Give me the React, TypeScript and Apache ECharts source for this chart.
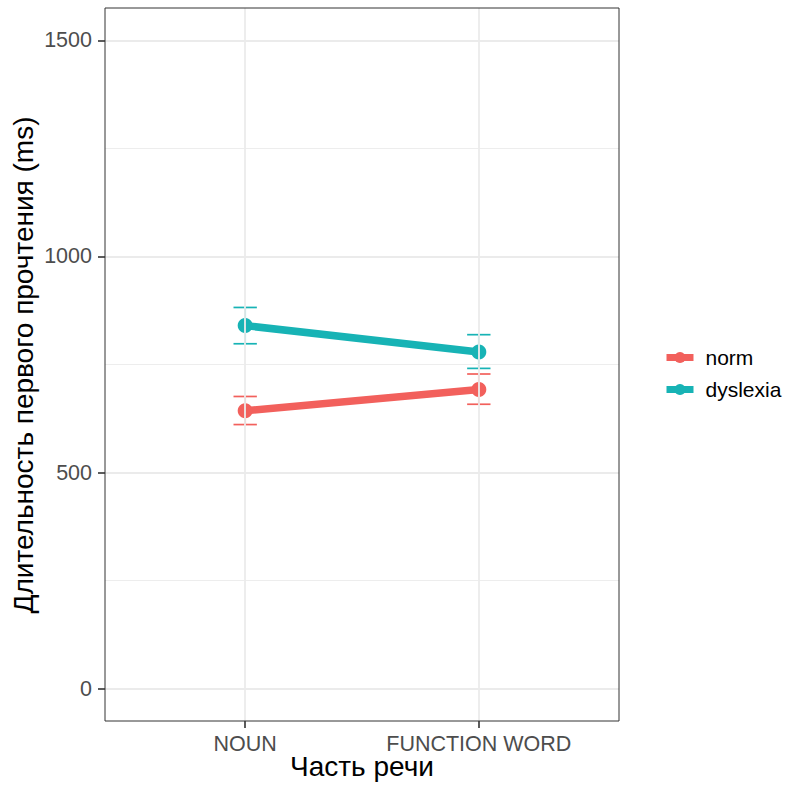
import React, { useEffect, useRef } from "react";
import * as echarts from "echarts";

const categories = ["NOUN", "FUNCTION WORD"];
const seriesNames = ["norm", "dyslexia"];
const normMean = [643, 692];
const normLow = [611, 658];
const normHigh = [676, 728];
const dysMean = [840, 779];
const dysLow = [798, 741];
const dysHigh = [882, 819];
const yTicks = [0, 500, 1000, 1500];
const yMinor = [250, 750, 1250];
const colors = ["#F2605C", "#17B3B5"];
const xTitle = "Часть речи";
const yTitle = "Длительность первого прочтения (ms)";

const FONT = "'Liberation Sans', Arial, Helvetica, sans-serif";

function errSeries(name: string, low: number[], high: number[], color: string) {
  return {
    type: "custom",
    name,
    z: 2,
    silent: true,
    data: categories.map((_, i) => [i + 1, low[i], high[i]]),
    renderItem: (params: any, api: any) => {
      const x = api.value(0);
      const lo = api.value(1);
      const hi = api.value(2);
      const pLo = api.coord([x, lo]);
      const pHi = api.coord([x, hi]);
      const l = api.coord([x - 0.05, lo])[0];
      const r = api.coord([x + 0.05, lo])[0];
      const style = { stroke: color, lineWidth: 1.7 };
      return {
        type: "group",
        children: [
          { type: "line", shape: { x1: pLo[0], y1: pLo[1], x2: pHi[0], y2: pHi[1] }, style },
          { type: "line", shape: { x1: l, y1: pLo[1], x2: r, y2: pLo[1] }, style },
          { type: "line", shape: { x1: l, y1: pHi[1], x2: r, y2: pHi[1] }, style },
        ],
      };
    },
  };
}

function lineSeries(name: string, mean: number[], color: string) {
  return {
    type: "line",
    name,
    z: 3,
    data: categories.map((_, i) => [i + 1, mean[i]]),
    symbol: "circle",
    symbolSize: 15,
    lineStyle: { color, width: 7.5 },
    itemStyle: { color },
    emphasis: { disabled: true },
  };
}

export default function App() {
  const ref = useRef<HTMLDivElement>(null);
  useEffect(() => {
    if (!ref.current) return;
    const chart = echarts.init(ref.current, undefined, { renderer: "svg" });
    const gridLines = [
      ...yTicks.map((v) => ({ yAxis: v, lineStyle: { width: 1.8, color: "#EBEBEB", type: "solid" } })),
      ...yMinor.map((v) => ({ yAxis: v, lineStyle: { width: 0.9, color: "#EBEBEB", type: "solid" } })),
      ...categories.map((_, i) => ({ xAxis: i + 1, lineStyle: { width: 1.8, color: "#EBEBEB", type: "solid" } })),
    ];
    chart.setOption({
      animation: false,
      backgroundColor: "#FFFFFF",
      textStyle: { fontFamily: FONT },
      grid: {
        left: 105,
        top: 8,
        width: 514,
        height: 713,
        show: true,
        borderColor: "#333333",
        borderWidth: 1,
        backgroundColor: "transparent",
        outerBoundsMode: "none",
        containLabel: false,
        z: 10,
      },
      graphic: [
        {
          type: "text",
          x: 362,
          y: 766,
          style: {
            text: xTitle,
            fontSize: 28,
            fontFamily: FONT,
            fill: "#000000",
            align: "center",
            verticalAlign: "middle",
          },
        },
        {
          type: "text",
          x: 23,
          y: 365,
          rotation: Math.PI / 2,
          style: {
            text: yTitle,
            fontSize: 28,
            fontFamily: FONT,
            fill: "#000000",
            align: "center",
            verticalAlign: "middle",
          },
        },
      ],
      legend: {
        data: seriesNames,
        orient: "vertical",
        left: 663,
        top: 347,
        padding: 0,
        itemWidth: 27,
        itemHeight: 14,
        itemGap: 11,
        lineStyle: { width: 7 },
        textStyle: { fontSize: 21, color: "#000000", fontFamily: FONT, padding: [0, 0, 0, 7] },
        selectedMode: false,
      },
      xAxis: {
        type: "value",
        min: 0.4,
        max: 2.6,
        axisLine: { show: false, onZero: false },
        splitLine: { show: false },
        axisTick: { show: true, customValues: [1, 2], length: 7, lineStyle: { color: "#333333", width: 1.6 } },
        axisLabel: {
          customValues: [1, 2],
          formatter: (v: number) => categories[Math.round(v) - 1] ?? "",
          fontSize: 21.5,
          color: "#4D4D4D",
          margin: 12,
          fontFamily: FONT,
        },
      },
      yAxis: {
        type: "value",
        min: -75,
        max: 1575,
        axisLine: { show: false, onZero: false },
        splitLine: { show: false },
        axisTick: { show: true, customValues: yTicks, length: 7, lineStyle: { color: "#333333", width: 1.6 } },
        axisLabel: {
          customValues: yTicks,
          formatter: (v: number) => String(v),
          fontSize: 21.5,
          color: "#4D4D4D",
          margin: 13,
          fontFamily: FONT,
        },
      },
      series: [
        {
          type: "line",
          name: "__grid",
          data: [],
          silent: true,
          z: 1,
          markLine: {
            silent: true,
            symbol: "none",
            label: { show: false },
            animation: false,
            data: gridLines,
          },
        },
        errSeries("__err_norm", normLow, normHigh, colors[0]),
        errSeries("__err_dys", dysLow, dysHigh, colors[1]),
        lineSeries("norm", normMean, colors[0]),
        lineSeries("dyslexia", dysMean, colors[1]),
      ],
    });
    return () => chart.dispose();
  }, []);
  return (
    <div
      ref={ref}
      style={{ position: "fixed", left: 0, top: 0, width: 786, height: 786, background: "#fff" }}
    />
  );
}
